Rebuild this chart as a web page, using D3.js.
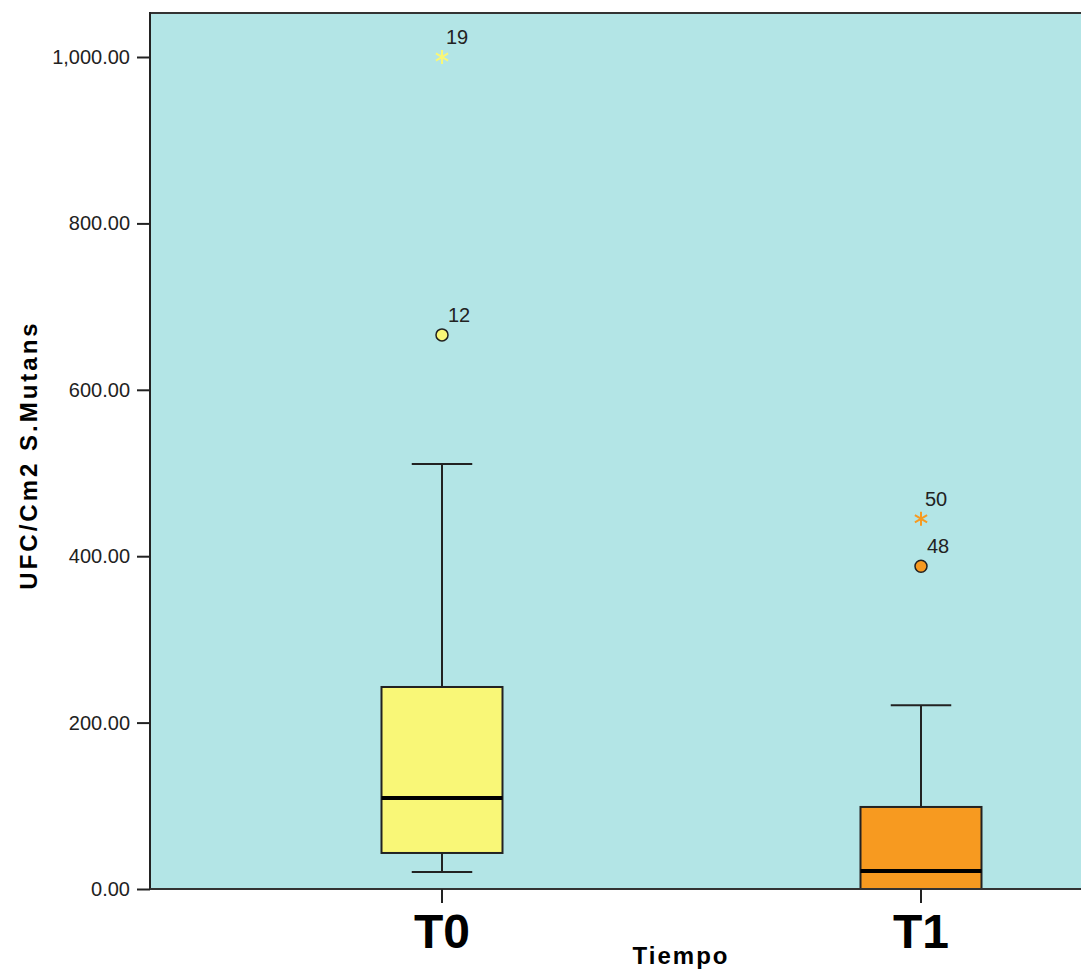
<!DOCTYPE html>
<html><head><meta charset="utf-8">
<script src="https://cdn.jsdelivr.net/npm/d3@7"></script>
<style>body{margin:0;background:#fff;overflow:hidden}svg{display:block}</style>
</head><body>
<script>
const categories = ["T0", "T1"];
const whiskerLow = [20.4, 0];
const q1 = [43.3, 0];
const median = [109.4, 21.6];
const q3 = [242.8, 98.6];
const whiskerHigh = [510.8, 221];
const outliers = [
  {cat: "T0", value: 666, label: "12", type: "circle"},
  {cat: "T0", value: 1000, label: "19", type: "star"},
  {cat: "T1", value: 388, label: "48", type: "circle"},
  {cat: "T1", value: 445, label: "50", type: "star"}
];
const yTicks = [0, 200, 400, 600, 800, 1000];
const fills = ["#f9f777", "#f79a20"];

const W = 1081, H = 970;
const plotL = 150, plotT = 12, plotB = 889, plotR = 1213;
const svg = d3.select("body").append("svg").attr("width", W).attr("height", H);

const y = d3.scaleLinear().domain([0, 1000]).range([plotB, 57]);
const x = d3.scalePoint().domain(categories).range([plotL, plotR]).padding(0.6096);
const step = x.step();
const boxW = step * 0.2526, capW = boxW / 2;

svg.append("rect").attr("x", plotL).attr("y", plotT).attr("width", plotR - plotL).attr("height", plotB - plotT)
  .attr("fill", "#b3e5e6");
svg.append("line").attr("x1", plotL).attr("x2", plotR).attr("y1", plotT + 1).attr("y2", plotT + 1)
  .attr("stroke", "#333").attr("stroke-width", 2);
svg.append("line").attr("x1", plotL).attr("x2", plotL).attr("y1", plotT).attr("y2", plotB)
  .attr("stroke", "#222").attr("stroke-width", 2);

// y axis
const yAxis = d3.axisLeft(y).tickValues(yTicks).tickFormat(d3.format(",.2f")).tickSize(13).tickPadding(7);
const ga = svg.append("g").attr("transform", `translate(${plotL},0)`).call(yAxis);
ga.select(".domain").remove();
ga.selectAll(".tick line").attr("stroke", "#222").attr("stroke-width", 2);
ga.selectAll(".tick text").attr("font-family", "Arial, 'Liberation Sans', sans-serif").attr("font-size", 20).attr("fill", "#222");

// boxes
const g = svg.append("g");
categories.forEach((c, i) => {
  const cx = x(c);
  g.append("line").attr("x1", cx).attr("x2", cx).attr("y1", y(q3[i])).attr("y2", y(whiskerHigh[i])).attr("stroke", "#222").attr("stroke-width", 2);
  g.append("line").attr("x1", cx - capW / 2).attr("x2", cx + capW / 2).attr("y1", y(whiskerHigh[i])).attr("y2", y(whiskerHigh[i])).attr("stroke", "#222").attr("stroke-width", 2);
  if (whiskerLow[i] < q1[i]) {
    g.append("line").attr("x1", cx).attr("x2", cx).attr("y1", y(q1[i])).attr("y2", y(whiskerLow[i])).attr("stroke", "#222").attr("stroke-width", 2);
    g.append("line").attr("x1", cx - capW / 2).attr("x2", cx + capW / 2).attr("y1", y(whiskerLow[i])).attr("y2", y(whiskerLow[i])).attr("stroke", "#222").attr("stroke-width", 2);
  }
  g.append("rect").attr("x", cx - boxW / 2).attr("y", y(q3[i])).attr("width", boxW).attr("height", y(q1[i]) - y(q3[i]))
    .attr("fill", fills[i]).attr("stroke", "#222").attr("stroke-width", 2);
  g.append("line").attr("x1", cx - boxW / 2).attr("x2", cx + boxW / 2).attr("y1", y(median[i])).attr("y2", y(median[i])).attr("stroke", "#000").attr("stroke-width", 4);
});

// bottom axis line
svg.append("line").attr("x1", plotL).attr("x2", plotR).attr("y1", plotB).attr("y2", plotB).attr("stroke", "#333").attr("stroke-width", 2);
categories.forEach(c => {
  svg.append("line").attr("x1", x(c)).attr("x2", x(c)).attr("y1", plotB).attr("y2", plotB + 14).attr("stroke", "#222").attr("stroke-width", 2);
  svg.append("text").attr("x", x(c)).attr("y", 948).attr("text-anchor", "middle")
    .attr("font-family", "Arial, 'Liberation Sans', sans-serif").attr("font-weight", "bold").attr("font-size", 48).attr("fill", "#000").text(c);
});

// outliers
const starSym = d3.symbol().type(d3.symbolAsterisk).size(140);
outliers.forEach(o => {
  const i = categories.indexOf(o.cat);
  const cx = x(o.cat), cy = y(o.value);
  if (o.type === "circle") {
    svg.append("circle").attr("cx", cx).attr("cy", cy).attr("r", 6).attr("fill", fills[i]).attr("stroke", "#222").attr("stroke-width", 1.5);
  } else {
    svg.append("path").attr("d", starSym).attr("transform", `translate(${cx},${cy})`).attr("stroke", fills[i]).attr("stroke-width", 2).attr("fill", "none");
  }
  svg.append("text").attr("x", cx + (o.type === "circle" ? 6 : 4)).attr("y", cy - 13)
    .attr("font-family", "Arial, 'Liberation Sans', sans-serif").attr("font-size", 20).attr("fill", "#222").text(o.label);
});

// axis titles
svg.append("text").attr("transform", "translate(37,455) rotate(-90)").attr("text-anchor", "middle")
  .attr("font-family", "Arial, 'Liberation Sans', sans-serif").attr("font-weight", "bold").attr("font-size", 24)
  .attr("letter-spacing", 3).attr("fill", "#000").text("UFC/Cm2 S.Mutans");
svg.append("text").attr("x", 681).attr("y", 964).attr("text-anchor", "middle")
  .attr("font-family", "Arial, 'Liberation Sans', sans-serif").attr("font-weight", "bold").attr("font-size", 24)
  .attr("letter-spacing", 2).attr("fill", "#000").text("Tiempo");
</script>
</body></html>
